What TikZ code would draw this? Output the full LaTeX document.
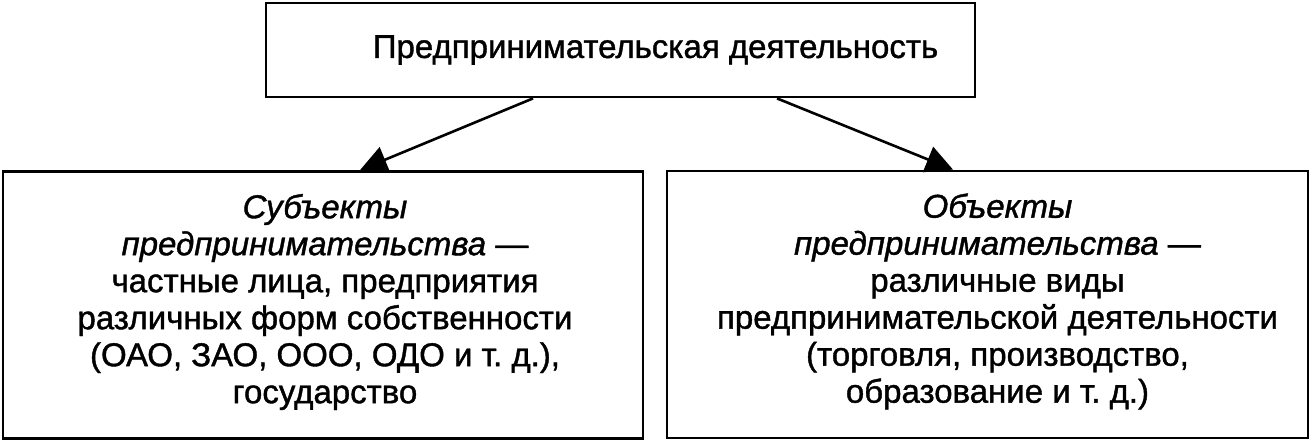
\documentclass[tikz,border=0pt]{standalone}
\usepackage{fontspec}
\setmainfont{Liberation Sans}[FakeBold=1.2]
\usetikzlibrary{arrows.meta,calc}
\begin{document}
\begin{tikzpicture}[x=1pt,y=-1pt,
  box/.style={draw=black,line width=2.8pt,rectangle,inner sep=0pt},
  txt/.style={inner sep=0pt,align=center,font=\fontsize{33}{37}\selectfont},
  arr/.style={line width=2.6pt,-{Triangle[length=27pt,width=27pt]}}]
\useasboundingbox[fill=white] (0,0) rectangle (1311,442);
\node[box,minimum width=709pt,minimum height=94pt] (top) at (620.5,50) {};
\node[txt] (toptext) at ($(top.center)+(35,0)$) {Предпринимательская деятельность};
\node[box,minimum width=640pt,minimum height=267pt] (left) at (323,305) {};
\node[txt] (lefttext) at ($(left.center)+(2,-3)$)
  {\textit{Субъекты}\\\textit{предпринимательства} ---\\частные лица, предприятия\\различных форм собственности\\(ОАО, ЗАО, ООО, ОДО и т.~д.),\\государство};
\node[box,minimum width=641pt,minimum height=267pt] (right) at (987.5,304.5) {};
\node[txt] (righttext) at ($(right.center)+(10,-3)$)
  {\textit{Объекты}\\\textit{предпринимательства} ---\\различные виды\\предпринимательской деятельности\\(торговля, производство,\\образование и т.~д.)};
\draw[arr] ($(top.south)+(-87.5,0)$) -- ($(left.north)+(37,0)$);
\draw[arr] ($(top.south)+(156.5,0)$) -- ($(right.north)+(-34.5,0)$);
\end{tikzpicture}
\end{document}
